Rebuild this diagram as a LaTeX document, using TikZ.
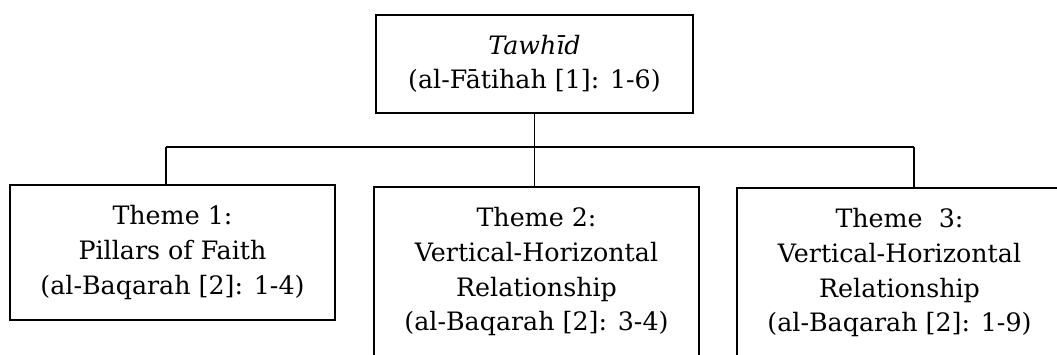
\documentclass[tikz,border=0pt]{standalone}
\usepackage{fontspec}
\setmainfont{DejaVu Serif}
\begin{document}
\begin{tikzpicture}[x=0.75pt,y=-0.75pt]
        \tikzstyle{box}=[draw, line width=1.4pt, align=center, inner sep=0pt,
            font=\fontsize{19}{26}\selectfont]
        \tikzstyle{theme}=[box, minimum width=243.75pt]
        \tikzstyle{conn}=[line width=1.2pt]
            \clip (0,0) rectangle (1057,354);
            \node[box, minimum width=237.75pt, minimum height=73.5pt] (t) at (534.5,64)
                {\textit{Tawhīd}\\(al-Fātihah [1]: 1-6)};
            \node[theme, minimum height=101.25pt] (th1) at (172.5,252.5)
                {Theme 1:\\Pillars of Faith\\(al-Baqarah [2]: 1-4)};
            \node[theme, minimum height=127.5pt] (th2) at (536.5,272)
                {Theme 2:\\Vertical-Horizontal\\Relationship\\(al-Baqarah [2]: 3-4)};
            \node[theme, minimum height=127.5pt] (th3) at (899.5,273)
                {Theme\ \ 3:\\Vertical-Horizontal\\Relationship\\(al-Baqarah [2]: 1-9)};
            \coordinate (jl) at (166,147);
            \coordinate (jr) at (914,147);
            \draw[conn] (jl) -- (jr);
            \draw[conn] (t.south) -- (t.south |- th2.north);
            \draw[conn] (jl) -- (jl |- th1.north);
            \draw[conn] (jr) -- (jr |- th3.north);
        \end{tikzpicture}
\end{document}
